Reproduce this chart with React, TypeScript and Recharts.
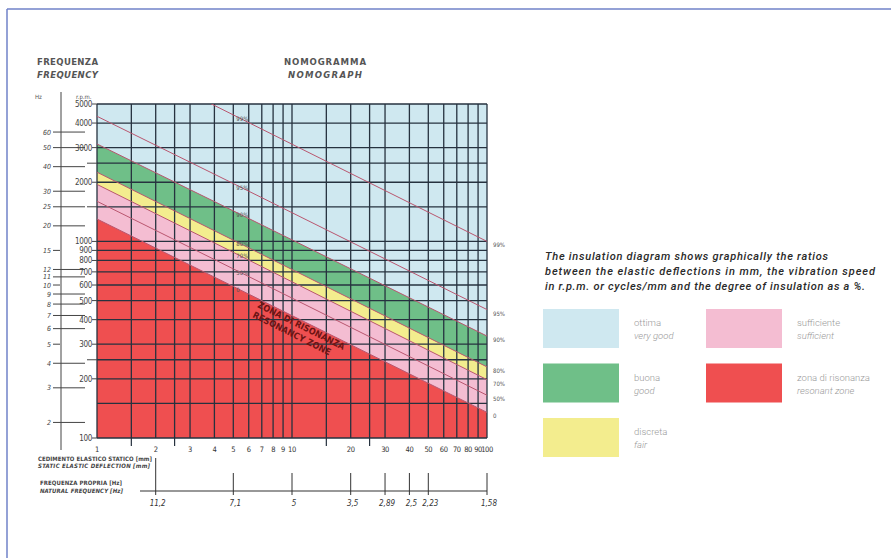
import React from "react";
import {
  ComposedChart,
  Area,
  Line,
  XAxis,
  YAxis,
  CartesianGrid,
  ReferenceLine,
  LabelList,
} from "recharts";

const deflection = [1, 5, 100];

// r.p.m. along each insulation line
const line99 = [9800, 4400, 1000];
const line95 = [4330, 1970, 450];
const line90 = [3130, 1430, 330];
const line80 = [2250, 1015, 230];
const line70 = [1950, 880, 198];
const line50 = [1600, 725, 165];
const line0 = [1300, 590, 135];

const xGrid = [1, 1.5, 2, 2.5, 3, 4, 5, 6, 7, 8, 9, 10, 15, 20, 25, 30, 40, 50, 60, 70, 80, 90, 100];
const xLabelled = [1, 2, 3, 4, 5, 6, 7, 8, 9, 10, 20, 30, 40, 50, 60, 70, 80, 90, 100];
const rpmGrid = [100, 150, 200, 250, 300, 400, 500, 600, 700, 800, 900, 1000, 1500, 2000, 2500, 3000, 4000, 5000];
const rpmLabelled = [100, 200, 300, 400, 500, 600, 700, 800, 900, 1000, 2000, 3000, 4000, 5000];
const hzTicks = [2, 3, 4, 5, 6, 7, 8, 9, 10, 11, 12, 15, 20, 25, 30, 40, 50, 60];
const hzShort = [5, 10, 15];

const natDeflection = [2, 5, 10, 20, 30, 40, 50, 100];
const natFrequency = ["11,2", "7,1", "5", "3,5", "2,89", "2,5", "2,23", "1,58"];

const BLUE = "#cfe8f0";
const GREEN = "#6fbf88";
const YELLOW = "#f3ed8e";
const PINK = "#f4bdd2";
const RED = "#ef4f50";
const LINE = "#b9566f";
const GRID = "#26323f";
const NARROW = "'Liberation Sans Narrow', 'DejaVu Sans Condensed', 'Liberation Sans', sans-serif";
const SANS = "Roboto, 'Liberation Sans', sans-serif";

const data = deflection.map((d, i) => ({
  d,
  p99: line99[i],
  p95: line95[i],
  p90: line90[i],
  p80: line80[i],
  p70: line70[i],
  p50: line50[i],
  p0: line0[i],
}));

const insulationLines = [
  { key: "p99", label: "99%" },
  { key: "p95", label: "95%" },
  { key: "p90", label: "90%" },
  { key: "p80", label: "80%" },
  { key: "p70", label: "70%" },
  { key: "p50", label: "50%" },
  { key: "p0", label: "0" },
];

const bands = [
  { key: "p90", color: GREEN },
  { key: "p80", color: YELLOW },
  { key: "p70", color: PINK },
  { key: "p0", color: RED },
];

const legendItems = [
  { it: "ottima", en: "very good", color: BLUE, col: 0, row: 0 },
  { it: "buona", en: "good", color: GREEN, col: 0, row: 1 },
  { it: "discreta", en: "fair", color: YELLOW, col: 0, row: 2 },
  { it: "sufficiente", en: "sufficient", color: PINK, col: 1, row: 0 },
  { it: "zona di risonanza", en: "resonant zone", color: RED, col: 1, row: 1 },
];

function DeflectionTick({ x, y, payload }: any) {
  const v = payload.value;
  if (!xLabelled.includes(v)) {
    return <line x1={x} y1={y} x2={x} y2={y + 8} stroke={GRID} strokeWidth={1.2} />;
  }
  return (
    <text x={x} y={y + 14} textAnchor="middle" fontSize={7.5} letterSpacing={-0.4} fill="#333" fontFamily={NARROW}>
      {v}
    </text>
  );
}

function NaturalTick({ x, y, payload }: any) {
  const i = natDeflection.indexOf(payload.value);
  return (
    <g>
      <line x1={x} y1={i === 0 ? y : y + 15} x2={x} y2={y + 37} stroke="#333" strokeWidth={1} />
      <text x={x + 2} y={y + 48} textAnchor="middle" fontSize={8} fontStyle="italic" fill="#333" fontFamily={NARROW}>
        {natFrequency[i]}
      </text>
    </g>
  );
}

function RpmTick({ x, y, payload }: any) {
  const v = payload.value;
  if (!rpmLabelled.includes(v)) {
    if (v === 150) return <g />;
    return <line x1={x - 10} y1={y} x2={x} y2={y} stroke="#444" strokeWidth={1} />;
  }
  return (
    <g>
      <line x1={x - 5} y1={y} x2={x} y2={y} stroke="#444" strokeWidth={1} />
      <text x={x - 5} y={y + 3} textAnchor="end" fontSize={8} letterSpacing={-0.3} fill="#444" fontFamily={NARROW}>
        {v}
      </text>
    </g>
  );
}

function HzTick({ x, y, payload }: any) {
  const v = payload.value;
  const end = hzShort.includes(v) ? x - 1 : x + 24;
  return (
    <g>
      <line x1={x - 8} y1={y} x2={end} y2={y} stroke="#444" strokeWidth={1} />
      <text x={x - 10} y={y + 2.5} textAnchor="end" fontSize={7} fontStyle="italic" fill="#444" fontFamily={NARROW}>
        {v}
      </text>
    </g>
  );
}

function lineLabel(text: string) {
  return (props: any) => {
    const { x, y, index } = props;
    if (index === 1) {
      return (
        <text x={x + 3} y={y + 6} fontSize={6} fill="#555" fontFamily={NARROW}>
          {text}
        </text>
      );
    }
    if (index === 2) {
      return (
        <text x={x + 6} y={y + 6} fontSize={6} fill="#555" fontFamily={NARROW}>
          {text}
        </text>
      );
    }
    return null;
  };
}

function Overlay() {
  const txt = { fontFamily: NARROW, fill: "#555" };
  return (
    <svg
      width={891}
      height={558}
      style={{ position: "absolute", left: 0, top: 0, pointerEvents: "none" }}
    >
      <line x1={7} y1={9} x2={891} y2={9} stroke="#7182c9" strokeWidth={1.5} />
      <line x1={7} y1={9} x2={7} y2={558} stroke="#7182c9" strokeWidth={1.5} />

      <text x={37} y={65} fontSize={9.5} fontWeight="bold" textLength={61} {...txt}>FREQUENZA</text>
      <text x={37} y={78} fontSize={9.5} fontWeight="bold" fontStyle="italic" textLength={61} {...txt}>FREQUENCY</text>
      <text x={284} y={65} fontSize={9.5} fontWeight="bold" textLength={82} {...txt}>NOMOGRAMMA</text>
      <text x={288} y={78} fontSize={9.5} fontWeight="bold" fontStyle="italic" textLength={74} {...txt}>NOMOGRAPH</text>

      <text x={35} y={99} fontSize={6} {...txt}>Hz</text>
      <text x={76} y={99} fontSize={6} {...txt}>r.p.m.</text>
      <line x1={61} y1={92} x2={61} y2={450} stroke="#444" strokeWidth={1} />

      <text x={38} y={461} fontSize={6} fontWeight="bold" textLength={114} fill="#444" fontFamily={NARROW}>CEDIMENTO ELASTICO STATICO [mm]</text>
      <text x={38} y={468} fontSize={6} fontWeight="bold" fontStyle="italic" textLength={112} fill="#444" fontFamily={NARROW}>STATIC ELASTIC DEFLECTION [mm]</text>
      <text x={40} y={485} fontSize={6} fontWeight="bold" textLength={82} fill="#444" fontFamily={NARROW}>FREQUENZA PROPRIA [Hz]</text>
      <text x={40} y={493} fontSize={6} fontWeight="bold" fontStyle="italic" textLength={83} fill="#444" fontFamily={NARROW}>NATURAL FREQUENCY [Hz]</text>
      <line x1={140} y1={491} x2={487} y2={491} stroke="#333" strokeWidth={1.2} />

      <g fontFamily={NARROW} fontWeight="bold" fontSize={9} fill="#6d1414">
        <text transform="translate(257,307) rotate(26.6)" textLength={96}>ZONA DI RISONANZA</text>
        <text transform="translate(252,317) rotate(26.6)" textLength={86}>RESONANCY ZONE</text>
      </g>

      <g fontFamily={SANS} fontStyle="italic" fontWeight={500} fontSize={11} fill="#2a2a2a">
        <text x={545} y={260} textLength={283}>The insulation diagram shows graphically the ratios</text>
        <text x={545} y={275} textLength={330}>between the elastic deflections in mm, the vibration speed</text>
        <text x={545} y={290} textLength={320}>in r.p.m. or cycles/mm and the degree of insulation as a %.</text>
      </g>

      {legendItems.map((it) => {
        const sx = it.col === 0 ? 543 : 706;
        const sy = 309 + it.row * 54.5;
        return (
          <g key={it.it}>
            <rect x={sx} y={sy} width={76} height={39} fill={it.color} />
            <text x={sx + 91} y={sy + 17} fontSize={9.5} fill="#9a9a9a" fontFamily={SANS} fontWeight={300}>
              {it.it}
            </text>
            <text x={sx + 91} y={sy + 30} fontSize={9.5} fill="#9a9a9a" fontFamily={SANS} fontWeight={300} fontStyle="italic">
              {it.en}
            </text>
          </g>
        );
      })}
    </svg>
  );
}

export default function App() {
  return (
    <div style={{ position: "absolute", left: 0, top: 0, width: 891, height: 558, background: "#fff" }}>
      <ComposedChart
        width={891}
        height={558}
        data={data}
        margin={{ top: 104, right: 404, bottom: 40, left: 25 }}
      >
        {/* light blue ground of the whole plot ("very good" zone) */}
        <CartesianGrid fill={BLUE} fillOpacity={1} horizontal={false} vertical={false} stroke="none" />
        <XAxis
          dataKey="d"
          type="number"
          scale="log"
          domain={[1, 100]}
          allowDataOverflow
          ticks={xGrid}
          interval={0}
          tick={<DeflectionTick />}
          tickSize={0}
          tickMargin={0}
          axisLine={false}
          tickLine={false}
          height={20}
        />
        <XAxis
          xAxisId="nat"
          dataKey="d"
          type="number"
          scale="log"
          domain={[1, 100]}
          allowDataOverflow
          ticks={natDeflection}
          interval={0}
          tick={<NaturalTick />}
          tickSize={0}
          tickMargin={0}
          axisLine={false}
          tickLine={false}
          height={60}
        />
        <YAxis
          type="number"
          scale="log"
          domain={[100, 5000]}
          allowDataOverflow
          ticks={rpmGrid}
          interval={0}
          tick={<RpmTick />}
          tickSize={0}
          tickMargin={0}
          axisLine={false}
          tickLine={false}
          width={36}
        />
        <YAxis
          yAxisId="hz"
          type="number"
          scale="log"
          domain={[100 / 60, 5000 / 60]}
          allowDataOverflow
          ticks={hzTicks}
          interval={0}
          tick={<HzTick />}
          tickSize={0}
          tickMargin={0}
          axisLine={false}
          tickLine={false}
          width={36}
        />

        {bands.map((b) => (
          <Area
            key={b.key}
            type="linear"
            dataKey={b.key}
            fill={b.color}
            fillOpacity={1}
            stroke="none"
            isAnimationActive={false}
            activeDot={false}
          />
        ))}

        {xGrid.map((v) => (
          <ReferenceLine key={"x" + v} x={v} stroke={GRID} strokeWidth={1.3} />
        ))}
        {rpmGrid.map((v) => (
          <ReferenceLine key={"y" + v} y={v} stroke={GRID} strokeWidth={1.3} />
        ))}

        {insulationLines.map((l) => (
          <Line
            key={l.key}
            type="linear"
            dataKey={l.key}
            stroke={LINE}
            strokeWidth={1}
            dot={false}
            activeDot={false}
            isAnimationActive={false}
          >
            <LabelList dataKey={l.key} content={lineLabel(l.label)} />
          </Line>
        ))}
      </ComposedChart>
      <Overlay />
    </div>
  );
}
